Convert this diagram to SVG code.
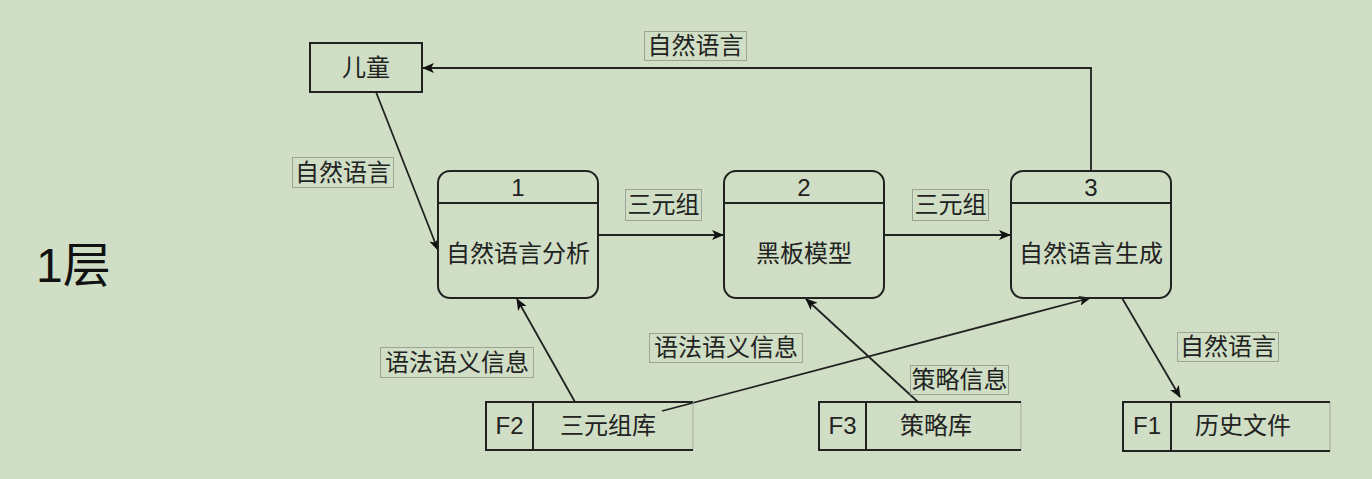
<svg xmlns="http://www.w3.org/2000/svg" width="1372" height="479" viewBox="0 0 1372 479">
<style>
.bg{fill:#cfdec4}
.sh{fill:none;stroke:#222;stroke-width:2}
.ln{fill:none;stroke:#222;stroke-width:1.8}
.fa{stroke:#a3ad9c;stroke-width:1}
.lb{fill:none;stroke:#9aa593;stroke-width:1}
.t{font-family:"Liberation Sans","Noto Sans CJK SC",sans-serif;font-size:24px;fill:#222;text-anchor:middle}
.big{font-family:"Liberation Sans","Noto Sans CJK SC",sans-serif;font-size:48px;fill:#111}
</style>
<defs>
<marker id="ah" viewBox="0 0 12 10" refX="11" refY="5" markerWidth="12" markerHeight="10" markerUnits="userSpaceOnUse" orient="auto">
<path d="M0,0 L12,5 L0,10 L3,5 Z" fill="#111"/>
</marker>
</defs>
<rect class="bg" x="0" y="0" width="1372" height="479"/>
<text class="big" x="36" y="282">1层</text>

<g id="connectors">
<path class="ln" d="M1091,171 L1091,68 L423,68" marker-end="url(#ah)"/>
<path class="ln" d="M376,92 L438,250" marker-end="url(#ah)"/>
<path class="ln" d="M598,235 L723,235" marker-end="url(#ah)"/>
<path class="ln" d="M884,235 L1010,235" marker-end="url(#ah)"/>
<path class="ln" d="M575,402 L517,299" marker-end="url(#ah)"/>
<path class="ln" d="M662,411 L1090,298" marker-end="url(#ah)"/>
<path class="ln" d="M918,402 L806,299" marker-end="url(#ah)"/>
<path class="ln" d="M1122,298 L1180,397" marker-end="url(#ah)"/>
<g id="labels">
<rect class="lb" x="644.5" y="31.5" width="102" height="29"/>
<text class="t" x="695.5" y="54">自然语言</text>
<rect class="lb" x="292.5" y="157.5" width="101" height="30"/>
<text class="t" x="343" y="181">自然语言</text>
<rect class="lb" x="625.5" y="189.5" width="76" height="31"/>
<text class="t" x="663.5" y="213">三元组</text>
<rect class="lb" x="912.5" y="189.5" width="76" height="31"/>
<text class="t" x="950.5" y="213">三元组</text>
<rect class="lb" x="380.5" y="347.5" width="153" height="30"/>
<text class="t" x="457" y="371">语法语义信息</text>
<rect class="lb" x="649.5" y="333.5" width="153" height="29"/>
<text class="t" x="726" y="356">语法语义信息</text>
<rect class="lb" x="910.5" y="365.5" width="98" height="29"/>
<text class="t" x="959.5" y="388">策略信息</text>
<rect class="lb" x="1177.5" y="332.5" width="101" height="29"/>
<text class="t" x="1228" y="355">自然语言</text>
</g>
</g>

<g id="child">
<rect class="sh" x="310" y="43" width="112" height="49"/>
<text class="t" x="366" y="76">儿童</text>
</g>

<g id="p1">
<rect class="sh" x="438" y="171" width="160" height="127" rx="12"/>
<line class="sh" x1="438" y1="203" x2="598" y2="203"/>
<text class="t" x="518" y="196">1</text>
<text class="t" x="518" y="262">自然语言分析</text>
</g>
<g id="p2">
<rect class="sh" x="724" y="171" width="160" height="127" rx="12"/>
<line class="sh" x1="724" y1="203" x2="884" y2="203"/>
<text class="t" x="804" y="196">2</text>
<text class="t" x="804" y="262">黑板模型</text>
</g>
<g id="p3">
<rect class="sh" x="1011" y="171" width="160" height="127" rx="12"/>
<line class="sh" x1="1011" y1="203" x2="1171" y2="203"/>
<text class="t" x="1091" y="196">3</text>
<text class="t" x="1091" y="262">自然语言生成</text>
</g>

<g id="f2">
<line class="fa" x1="693" y1="402" x2="693" y2="450"/>
<path class="sh" d="M693,402 L486,402 L486,450 L693,450 M533,402 L533,450"/>
<text class="t" x="509.5" y="434">F2</text>
<text class="t" x="608" y="434">三元组库</text>
</g>
<g id="f3">
<line class="fa" x1="1021" y1="402" x2="1021" y2="450"/>
<path class="sh" d="M1021,402 L819,402 L819,450 L1021,450 M866,402 L866,450"/>
<text class="t" x="842.5" y="434">F3</text>
<text class="t" x="936" y="434">策略库</text>
</g>
<g id="f1">
<line class="fa" x1="1330" y1="402" x2="1330" y2="451"/>
<path class="sh" d="M1330,402 L1123,402 L1123,451 L1330,451 M1171,402 L1171,451"/>
<text class="t" x="1147" y="434">F1</text>
<text class="t" x="1243" y="434">历史文件</text>
</g>
</svg>
